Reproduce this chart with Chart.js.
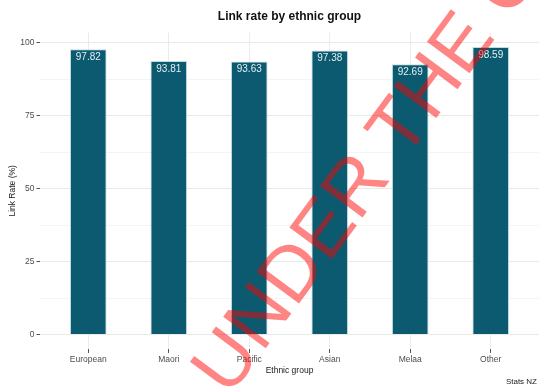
<!DOCTYPE html>
<html>
<head>
<meta charset="utf-8">
<script src="https://cdn.jsdelivr.net/npm/chart.js@4/dist/chart.umd.min.js"></script>
<style>
  html, body { margin: 0; padding: 0; background: #ffffff; }
  #wrap { width: 539px; height: 390px; position: relative; }
</style>
</head>
<body>
<div id="wrap"><canvas id="chart"></canvas></div>
<script>
// data
const groups    = ["European", "Maori", "Pacific", "Asian", "Melaa", "Other"];
const linkRates = [97.82, 93.81, 93.63, 97.38, 92.69, 98.59];
const yTicks    = [0, 12.5, 25, 37.5, 50, 62.5, 75, 87.5, 100];

const barColour = "#0b5a6f";
const fontFam   = "'Liberation Sans', Arial, sans-serif";

Chart.defaults.font.family = fontFam;

/**
 * Writes the value in light text just inside the top of each bar.
 */
const barLabels = {
    id: "barLabels",
    afterDatasetsDraw(chart) {
        const ctx = chart.ctx;
        const meta = chart.getDatasetMeta(0);
        ctx.save();
        ctx.font = "10px " + fontFam;
        ctx.fillStyle = "#e4eef1";
        ctx.textAlign = "center";
        ctx.textBaseline = "middle";
        for (let i = 0; i < meta.data.length; i++) {
            let bar = meta.data[i];
            ctx.fillText(linkRates[i].toFixed(2), bar.x, bar.y + 8);
        }
        ctx.restore();
    }
};

/**
 * Caption bottom right and the red stamp across the picture.
 */
const extras = {
    id: "extras",
    afterDraw(chart) {
        const ctx = chart.ctx;
        ctx.save();
        ctx.font = "8px " + fontFam;
        ctx.fillStyle = "#1a1a1a";
        ctx.textAlign = "right";
        ctx.textBaseline = "middle";
        ctx.fillText("Stats NZ", 537, 382);
        ctx.restore();

        ctx.save();
        ctx.translate(229, 398);
        ctx.rotate(-53.5 * Math.PI / 180);
        ctx.font = "77px " + fontFam;
        ctx.fillStyle = "rgba(255, 0, 0, 0.48)";
        ctx.textAlign = "left";
        ctx.textBaseline = "alphabetic";
        ctx.fillText("UNDER THE C", 0, 0);
        ctx.restore();
    }
};

let myChart = new Chart(document.getElementById("chart"), {
    type: "bar",
    data: {
        datasets: [{
            label: "Link rate",
            data: linkRates.map((v, i) => ({ x: i + 1, y: v })),
            backgroundColor: barColour,
            borderColor: "rgba(190, 214, 222, 0.9)",
            borderWidth: 1,
            barPercentage: 0.455,
            categoryPercentage: 1
        }]
    },
    options: {
        responsive: true,
        maintainAspectRatio: false,
        animation: false,
        layout: { padding: 0 },
        plugins: {
            legend: { display: false },
            tooltip: { enabled: false },
            title: {
                display: true,
                fullSize: false,
                text: "Link rate by ethnic group",
                color: "#111",
                font: { size: 12, weight: "bold" },
                padding: { top: 9, bottom: 9.3 }
            }
        },
        scales: {
            x: {
                type: "linear",
                offset: false,
                min: 0.4,
                max: 6.6,
                afterBuildTicks: (scale) => {
                    scale.ticks = groups.map((g, i) => ({ value: i + 1 }));
                },
                afterFit: (scale) => { scale.height = 41; },
                ticks: {
                    autoSkip: false,
                    maxRotation: 0,
                    padding: 2,
                    color: "#4d4d4d",
                    font: { size: 8.5 },
                    callback: (v) => groups[v - 1]
                },
                grid: {
                    offset: false,
                    color: "#ebebeb",
                    tickColor: "#555",
                    tickLength: 4
                },
                border: { display: false },
                title: {
                    display: true,
                    text: "Ethnic group",
                    color: "#1a1a1a",
                    font: { size: 8.5 },
                    padding: { top: 0, bottom: 14.6 }
                }
            },
            y: {
                min: -4.93,
                max: 103.52,
                afterBuildTicks: (scale) => {
                    scale.ticks = yTicks.map((v) => ({ value: v }));
                },
                afterFit: (scale) => { scale.width = 40; },
                ticks: {
                    autoSkip: false,
                    padding: 2,
                    color: "#4d4d4d",
                    font: { size: 8.5 },
                    callback: (v) => (v % 25 === 0 ? v : "")
                },
                grid: {
                    color: (c) => (c.tick && c.tick.value % 25 === 0 ? "#e9e9e9" : "#f4f4f4"),
                    tickColor: (c) => (c.tick && c.tick.value % 25 === 0 ? "#555" : "rgba(0,0,0,0)"),
                    tickLength: 3.5
                },
                border: { display: false },
                title: {
                    display: true,
                    text: "Link Rate (%)",
                    color: "#1a1a1a",
                    font: { size: 8.5 },
                    padding: { top: 7.6, bottom: 0 }
                }
            }
        }
    },
    plugins: [barLabels, extras]
});
</script>
</body>
</html>
